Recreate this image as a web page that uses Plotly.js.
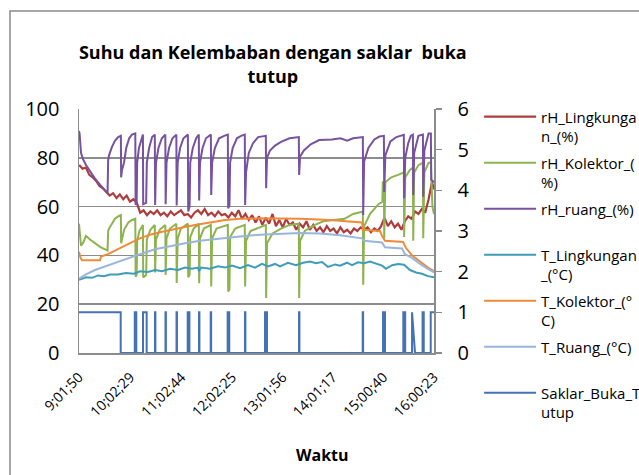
<!DOCTYPE html>
<html>
<head>
<meta charset="utf-8">
<script src="https://cdn.plot.ly/plotly-3.0.1.min.js"></script>
<style>html,body{margin:0;padding:0;background:#fff;}</style>
</head>
<body>
<div id="chart" style="width:639px;height:475px;"></div>
<script>
// Waktu in minutes after 09:00:00
const waktuTick = [1.83, 62.48, 122.73, 182.42, 241.93, 301.28, 360.67, 420.38];
const waktuLabel = ['9;01;50', '10;02;29', '11;02;44', '12;02;25', '13;01;56', '14;01;17', '15;00;40', '16;00;23'];

const seriesNames = [
  'rH_Lingkunga<br>n_(%)',
  'rH_Kolektor_(<br>%)',
  'rH_ruang_(%)<br>&nbsp;',
  'T_Lingkungan<br>_(°C)',
  'T_Kolektor_(°<br>C)',
  'T_Ruang_(°C)<br>&nbsp;',
  'Saklar_Buka_T<br>utup'
];

// rH_Lingkungan_(%)
const t_rHLingkungan = [2,6,10,14,18,22,26,30,34,38,42,46,50,54,58,62,66,70,74,78,82,86,90,94,98,102,106,110,114,118,122,126,130,134,138,142,146,150,154,158,162,166,170,174,178,182,186,190,194,198,202,206,210,214,218,222,226,230,234,238,242,246,250,254,258,262,266,270,274,278,282,286,290,294,298,302,306,310,314,318,322,326,330,334,338,342,346,350,354,358,362,366,370,374,378,382,386,390,394,398,402,406,410,414,418,420.4];
const rHLingkungan = [77,75.5,76,73,72,70.5,68.5,67.5,66,64.5,65.5,63.5,65,63,64.5,62,63,61.5,57.5,58.5,56.5,58,57,58.5,56.5,57.5,56,58,56.5,57.5,58.5,56.5,57,55.5,57.5,58.5,57,59,56.5,57.5,56,58,56.5,57,55.5,57.5,56,58.5,55,57,54.5,56.5,53.5,56,52.5,55.5,53,57,52,54.5,51.5,55,52.5,53.5,50.5,53,51.5,54,50.5,52.5,50,51.5,49.5,52,50,51,49,51.5,49.5,50.5,49,51,50,51.5,50.5,51.5,49.5,51,50,52,55.5,52,54,51.5,53,50.5,54,56,55,58,57,59,57.5,63,70,67];

// rH_Kolektor_(%)
const t_rHKolektor = [1.8,2.5,4.2,6.5,10.1,14.8,20.7,26.6,32.5,35.5,36.2,37.2,40.7,44.2,48,51.2,51.5,52.5,55,60,64.3,68.2,68.6,69.8,70.4,73,77.2,77.5,81,81.8,86,91.2,91.6,92.6,97,103.6,104,105,109,116.6,117,118.2,122,130.2,130.6,132.2,133,137,143.1,143.5,144.5,149,157.3,157.7,158.8,164,177.3,177.7,179.2,180,186,197.3,197.7,198.8,204,215,222.1,222.5,223.5,230,240,250,261,261.4,262.5,268,280,290,300,315,325,336.5,336.9,338,345,355,359.5,360,361.3,361.7,363,370,378,384.8,385.2,386.5,392,395.5,395.9,397,402,407.3,407.7,409,414,416.7,417.1,418.5,420.4];
const rHKolektor = [53,50,44,45,48,46.5,45,43.5,42.5,42,50,51,53,55,56,56.5,45,47,50.5,53.5,54.5,55,31.3,32,46,50,52.5,31,32,46.5,50.5,52.5,33,46.5,50.5,52.5,32,47,51,53,28.7,47,51,53,31,32,47.5,51,53,28.6,47,51,52.5,27.3,47,51,52.5,25.2,26,47.5,51,52.5,27.3,46,50,51.5,52.5,22.5,45,49,51,52.5,53,22.5,46,50,52.5,54,54.5,55,57,58,28,52,57,61,62,70,70,47,70,72,73,74,47.5,72,75,76,46,74,77,78,47,74,78,78,74,60,57];

// rH_ruang_(%)
const t_rHRuang = [1.8,2.5,4.2,6.5,10.1,14.8,20.7,26.6,32.5,35.5,36.2,37.2,40.7,44.2,48,51.2,51.5,52.5,54.9,57.5,61,64.3,68.2,68.6,69.8,70.4,72.5,75.5,77.2,77.5,81,81.8,84.5,88,91.2,91.6,92.6,95.5,99.5,103.6,104,105,108,112,116.6,117,118.2,121,125,130.2,130.6,132.2,133,136,140,143.1,143.5,144.5,147.5,151.5,157.3,157.7,158.8,162,167,173,177.3,177.7,179.2,180,183,188,193,197.3,197.7,198.8,202,207,213,222.1,222.5,223.5,227,233,240,250,261,261.4,262.5,267,275,285,300,310,318,325,336.5,336.9,338,343,350,356,361.3,361.7,363,369,376,384.8,385.2,386.5,390,393,395.5,395.9,397,402,407.3,407.7,409,414,416.7,417.1,420.4];
const rHRuang = [91,90,82,79.5,77,74.5,71.5,69,66.5,65.5,79,81,84.5,87,88.5,89,72,75,78,84,88,89.5,90,60.7,62,78,84,88,89.5,61,61.5,78,84,88.5,89.5,60.7,78,84,88,89.5,61,78,84,88,89.5,60.5,78,84,88,89.5,58,60,78,84,88,89.5,62.5,78,84,88,89.5,64.8,78,84,88,89,89.5,59.3,60.5,78,84,88,89,89.5,60.7,74,82,86,88.5,89,67.5,80,83,85,86.5,88,88.5,73,80.5,83,85.5,87.3,87.5,88,87,88,88.5,56.6,78.5,84,87.5,88.7,89,66,81,86.7,88.5,89.4,63.4,80,86,89,89.5,64.8,82,89,89.5,64,83,90,90,71,70];

// T_Lingkungan_(°C)
const t_TLingkungan = [1.8,5.4,10.1,17.2,24.2,31.3,38.4,47.8,57.2,66.7,73.7,83.2,91.4,99.7,109.1,118.6,126.8,135.1,142.1,143.3,145.7,156.3,165.7,174,182.2,191.7,201.1,209.3,217.6,224.7,232.9,238.8,248.2,257.7,266,274.2,281.2,288.3,295.4,303.7,309.6,317.8,323.7,330.8,337.9,344.9,352,359.1,363.8,370.9,378,385,392.1,399.2,406.2,413.3,420.4];
const TLingkungan = [30,30.5,31,30.8,31.8,31.5,32.2,32.2,32.8,32.5,33.5,33.2,34,33.5,34.5,34,35,34.5,35,33.5,35,34.5,35.5,35,35.8,34.8,36,35,36.5,35.5,36.5,35.5,37,36,37,37.5,36.8,37.3,35.3,36.3,35.8,37,36,37.2,36.8,37.5,36.5,35.8,34.5,36,36.5,36.2,34,33,32.5,31.5,31];

// T_Kolektor_(°C)
const t_TKolektor = [1.8,3.6,5.4,26.6,27.8,36,44.3,52.5,62,73.7,85.5,97.3,109.1,120.9,138.6,156.3,174,191.7,215.2,262.4,297.8,335.5,336.7,356.7,359.1,362.6,383.9,387.4,394.5,403.9,413.3,420.4];
const TKolektor = [41.5,39,38,38,39.5,40.5,42,43.5,45,47,48.5,49.5,50.5,51.2,52.5,53.5,54.5,55,55.2,55,54.5,53.5,50.5,50,48,46,45.5,43,40,37.5,35,33.5];

// T_Ruang_(°C)
const t_TRuang = [1.8,8.9,20.7,32.5,44.3,56.1,73.7,91.4,109.1,126.8,144.5,168.1,191.7,215.2,238.8,262.4,286,309.6,335.5,337.9,359.1,362.6,382.7,386.2,394.5,403.9,413.3,420.4];
const TRuang = [30.5,32,34,35.5,37,38.5,40.5,42.5,43.8,45,46,46.7,47.7,48.5,49,49.2,49,48.3,47,46,45.3,43.3,42.8,40.5,39,36.5,34.5,33];

// Saklar_Buka_Tutup (0 = tutup, 1 = buka)
const t_Saklar = [1.83,51.0,51.0,67.6,67.6,69.4,69.4,77.3,77.3,81.6,81.6,91.4,91.4,91.9,91.9,103.8,103.8,104.3,104.3,116.8,116.8,117.3,117.3,130.0,130.0,132.0,132.0,143.3,143.3,143.8,143.8,157.1,157.1,157.6,157.6,177.1,177.1,179.0,179.0,197.5,197.5,198.0,198.0,221.1,221.1,223.5,223.5,261.2,261.2,261.7,261.7,336.3,336.3,336.8,336.8,360.3,360.3,362.6,362.6,384.2,384.2,386.4,386.4,394.5,394.5,398.0,406.9,406.9,408.3,408.3,416.5,416.5,420.38];
const Saklar = [1,1,0,0,1,1,0,0,1,1,0,0,1,1,0,0,1,1,0,0,1,1,0,0,1,1,0,0,1,1,0,0,1,1,0,0,1,1,0,0,1,1,0,0,1,1,0,0,1,1,0,0,1,1,0,0,1,1,0,0,1,1,0,0,1,0,0,1,1,0,0,1,1];

const colors = ['#AE3C3A', '#8DB34F', '#7652A0', '#3E9DB8', '#EF8A3B', '#9AB5DC', '#4472B4'];
const xs = [t_rHLingkungan, t_rHKolektor, t_rHRuang, t_TLingkungan, t_TKolektor, t_TRuang, t_Saklar];
const ys = [rHLingkungan, rHKolektor, rHRuang, TLingkungan, TKolektor, TRuang, Saklar];

const traces = xs.map((x, i) => ({
  type: 'scatter',
  mode: 'lines',
  x: x,
  y: ys[i],
  name: seriesNames[i],
  legendgroup: 'g' + i,
  yaxis: i === 6 ? 'y2' : 'y',
  line: {color: colors[i], width: i === 0 ? 2.2 : 2},
  hoverinfo: 'skip'
}));

const gray = '#8c8c8c';
const layout = {
  width: 639,
  height: 475,
  margin: {l: 79, r: 205, t: 109, b: 122, autoexpand: false},
  paper_bgcolor: '#ffffff',
  plot_bgcolor: '#ffffff',
  font: {family: '"Open Sans", sans-serif', color: '#000000'},
  showlegend: true,
  title: {
    text: '<b>Suhu dan Kelembaban dengan saklar\u00a0 buka<br>tutup</b>',
    font: {size: 18, color: '#000000'},
    x: 0.427, xanchor: 'center', xref: 'container',
    y: 0.875, yanchor: 'middle', yref: 'container'
  },
  xaxis: {
    range: [1.83, 420.38],
    tickmode: 'array',
    tickvals: waktuTick,
    ticktext: waktuLabel,
    tickangle: -45,
    tickfont: {size: 14},
    ticklabelstandoff: 9,
    showgrid: false,
    zeroline: false,
    showline: true,
    linecolor: gray,
    linewidth: 1.5,
    ticks: ''
  },
  yaxis: {
    range: [0, 100],
    tick0: 0,
    dtick: 20,
    showgrid: true,
    gridcolor: gray,
    gridwidth: 1.5,
    zeroline: false,
    showline: true,
    linecolor: gray,
    linewidth: 1.5,
    ticks: '',
    tickfont: {size: 20},
    ticklabelstandoff: 14
  },
  yaxis2: {
    range: [0, 6],
    tick0: 0,
    dtick: 1,
    overlaying: 'y',
    side: 'right',
    showgrid: false,
    zeroline: false,
    showline: true,
    linecolor: gray,
    linewidth: 1.5,
    ticks: 'outside',
    ticklen: 6,
    tickwidth: 1.5,
    tickcolor: gray,
    tickfont: {size: 20},
    ticklabelstandoff: 12
  },
  legend: {
    x: 1.127, xanchor: 'left',
    y: 1.035, yanchor: 'top',
    font: {size: 15},
    valign: 'top',
    itemwidth: 52,
    tracegroupgap: 4,
    maxheight: 1,
    bgcolor: 'rgba(0,0,0,0)'
  },
  shapes: [{
    type: 'rect', xref: 'paper', yref: 'paper',
    x0: -0.1944, x1: 1.8, y0: -1.2, y1: 1.4016,
    line: {color: '#8a8a8a', width: 1.5},
    fillcolor: 'rgba(0,0,0,0)',
    layer: 'below'
  }],
  annotations: [{
    text: '<b>Waktu</b>',
    xref: 'paper', yref: 'paper',
    x: 0.685, y: -0.418,
    xanchor: 'center', yanchor: 'middle',
    showarrow: false,
    font: {size: 16, color: '#000000'}
  }]
};

Plotly.newPlot('chart', traces, layout, {staticPlot: true, displayModeBar: false});
</script>
</body>
</html>
